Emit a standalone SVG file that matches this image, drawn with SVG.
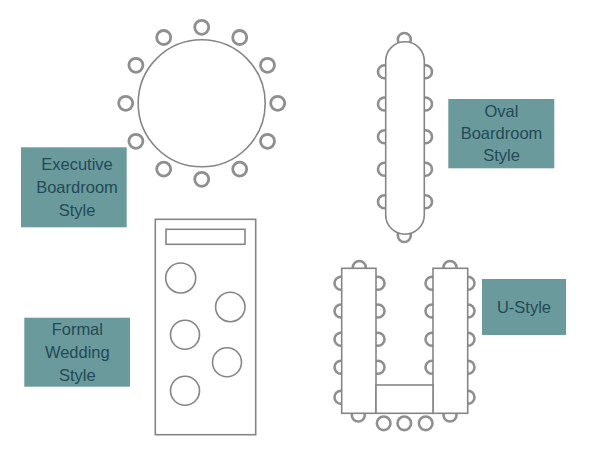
<svg xmlns="http://www.w3.org/2000/svg" width="600" height="450" viewBox="0 0 600 450">
<style>
.t{fill:#fff;stroke:#858585;stroke-width:1.6}
.c{fill:#fff;stroke:#8f8f8f;stroke-width:2.8}
.c2{fill:#fff;stroke:#8f8f8f;stroke-width:2.6}
.l{fill:#6a9a9c}
text{font-family:"Liberation Sans",Arial,sans-serif;font-size:16.5px;fill:#234a55;text-anchor:middle}
</style>
<rect width="600" height="450" fill="#fff"/>
<g id="round-table">
<g class="c">
<circle cx="201.7" cy="27.3" r="7"/><circle cx="239.7" cy="37.5" r="7"/><circle cx="267.5" cy="65.3" r="7"/><circle cx="277.7" cy="103.3" r="7"/><circle cx="267.5" cy="141.3" r="7"/><circle cx="239.7" cy="169.1" r="7"/><circle cx="201.7" cy="179.3" r="7"/><circle cx="163.7" cy="169.1" r="7"/><circle cx="135.9" cy="141.3" r="7"/><circle cx="125.7" cy="103.3" r="7"/><circle cx="135.9" cy="65.3" r="7"/><circle cx="163.7" cy="37.5" r="7"/>
</g>
<circle class="t" cx="201.7" cy="103.3" r="63.5"/>
</g>
<g id="oval-table">
<g class="c2">
<circle cx="384.5" cy="71.7" r="6.5"/><circle cx="384.5" cy="104" r="6.5"/><circle cx="384.5" cy="136.7" r="6.5"/><circle cx="384.5" cy="169.3" r="6.5"/><circle cx="384.5" cy="201.7" r="6.5"/>
<circle cx="425.5" cy="71.7" r="6.5"/><circle cx="425.5" cy="104" r="6.5"/><circle cx="425.5" cy="136.7" r="6.5"/><circle cx="425.5" cy="169.3" r="6.5"/><circle cx="425.5" cy="201.7" r="6.5"/>
<circle cx="404.3" cy="39.5" r="6.5"/><circle cx="404.3" cy="235.5" r="6.5"/>
</g>
<rect class="t" x="385.7" y="41.7" width="38.6" height="192.5" rx="19.3" ry="19.3"/>
</g>
<g id="oval-label"><rect class="l" x="448.3" y="99" width="106" height="69.3"/><text x="501.5" y="117">Oval</text><text x="501.5" y="139">Boardroom</text><text x="501.5" y="161">Style</text></g>
<g id="executive-label"><rect class="l" x="21" y="147.3" width="105.7" height="80"/><text x="77" y="170">Executive</text><text x="77" y="193">Boardroom</text><text x="77" y="216">Style</text></g>
<g id="formal-wedding">
<rect class="t" x="155.3" y="219.3" width="100.4" height="215.4"/>
<rect class="t" x="166" y="229.3" width="79" height="15"/>
<circle class="t" cx="180.7" cy="278" r="15"/><circle class="t" cx="230.3" cy="307" r="14.7"/><circle class="t" cx="185" cy="334.7" r="14.5"/><circle class="t" cx="227" cy="362.3" r="14.5"/><circle class="t" cx="185" cy="390.7" r="14.5"/>
</g>
<g id="formal-label"><rect class="l" x="24.3" y="317.7" width="105.7" height="69"/><text x="77.3" y="335">Formal</text><text x="77.3" y="358">Wedding</text><text x="77.3" y="381">Style</text></g>
<g id="u-table">
<g class="c2">
<circle cx="341" cy="283.3" r="6.5"/><circle cx="341" cy="311" r="6.5"/><circle cx="341" cy="339.3" r="6.5"/><circle cx="341" cy="367.3" r="6.5"/><circle cx="341" cy="397.3" r="6.5"/>
<circle cx="378" cy="283.3" r="6.5"/><circle cx="378" cy="311" r="6.5"/><circle cx="378" cy="339.3" r="6.5"/><circle cx="378" cy="367.3" r="6.5"/>
<circle cx="432" cy="283.3" r="6.5"/><circle cx="432" cy="311" r="6.5"/><circle cx="432" cy="339.3" r="6.5"/><circle cx="432" cy="367.3" r="6.5"/>
<circle cx="468" cy="283.3" r="6.5"/><circle cx="468" cy="311" r="6.5"/><circle cx="468" cy="339.3" r="6.5"/><circle cx="468" cy="367.3" r="6.5"/><circle cx="468" cy="397.3" r="6.5"/>
<circle cx="359.3" cy="267.5" r="6.5"/><circle cx="450" cy="267.5" r="6.5"/><circle cx="358.3" cy="415" r="6.5"/><circle cx="450" cy="415" r="6.5"/>
<circle cx="383.7" cy="423.3" r="6.8"/><circle cx="404.3" cy="423.3" r="6.8"/><circle cx="425.7" cy="423.3" r="6.8"/>
</g>
<rect class="t" x="341.7" y="268.3" width="34.3" height="145"/><rect class="t" x="433" y="268.3" width="34.7" height="145"/><rect class="t" x="376" y="385" width="57" height="28.3"/>
</g>
<g id="u-label"><rect class="l" x="482" y="279" width="84" height="56"/><text x="524" y="313">U-Style</text></g>
</svg>
